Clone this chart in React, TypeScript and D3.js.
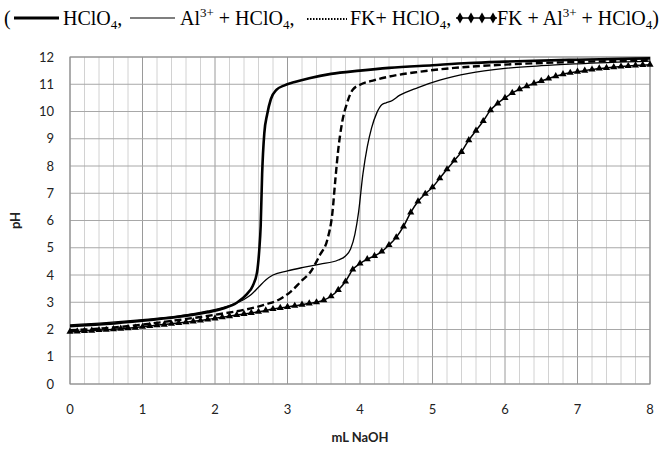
import React from "react";
import * as d3 from "d3";

const xTicks = [0, 1, 2, 3, 4, 5, 6, 7, 8];
const yTicks = [0, 1, 2, 3, 4, 5, 6, 7, 8, 9, 10, 11, 12];

// HClO4 (thick solid)
const hclo4X = [0, 0.5, 1.0, 1.5, 1.9, 2.1, 2.3, 2.44, 2.52, 2.58, 2.61, 2.63, 2.65, 2.68, 2.72, 2.77, 2.85, 2.95, 3.1, 3.3, 3.6, 4.0, 4.4, 5.0, 5.5, 6.0, 7.0, 8.0];
const hclo4Y = [2.12, 2.2, 2.32, 2.47, 2.63, 2.76, 2.98, 3.3, 3.6, 4.1, 4.9, 5.8, 7.7, 9.2, 9.9, 10.45, 10.8, 10.95, 11.08, 11.22, 11.38, 11.5, 11.6, 11.7, 11.78, 11.83, 11.9, 11.95];

// Al3+ + HClO4 (thin solid)
const alX = [0, 0.5, 1.0, 1.5, 1.9, 2.2, 2.4, 2.5, 2.6, 2.7, 2.8, 3.0, 3.2, 3.45, 3.7, 3.8, 3.87, 3.93, 3.98, 4.04, 4.1, 4.16, 4.23, 4.3, 4.36, 4.42, 4.55, 4.8, 5.1, 5.5, 6.0, 6.5, 7.0, 8.0];
const alY = [2.17, 2.25, 2.36, 2.5, 2.68, 2.88, 3.1, 3.28, 3.55, 3.82, 4.0, 4.15, 4.27, 4.4, 4.55, 4.7, 4.95, 5.5, 6.3, 7.7, 8.7, 9.4, 9.94, 10.25, 10.32, 10.37, 10.6, 10.88, 11.15, 11.4, 11.58, 11.68, 11.75, 11.85];

// FK + HClO4 (dashed)
const fkX = [0, 0.5, 1.0, 1.5, 2.0, 2.4, 2.7, 2.9, 3.05, 3.2, 3.3, 3.45, 3.55, 3.62, 3.66, 3.7, 3.75, 3.82, 3.9, 4.0, 4.2, 4.4, 4.8, 5.3, 6.0, 7.0, 8.0];
const fkY = [1.97, 2.05, 2.18, 2.35, 2.54, 2.72, 2.92, 3.12, 3.4, 3.8, 4.05, 4.75, 5.3, 6.3, 7.5, 8.6, 9.55, 10.3, 10.8, 10.98, 11.15, 11.28, 11.45, 11.6, 11.72, 11.82, 11.88];

// FK + Al3+ + HClO4 (markers)
const fkAlX = [0, 0.1, 0.2, 0.3, 0.4, 0.5, 0.6, 0.7, 0.8, 0.9, 1.0, 1.1, 1.2, 1.3, 1.4, 1.5, 1.6, 1.7, 1.8, 1.9, 2.0, 2.1, 2.2, 2.3, 2.4, 2.5, 2.6, 2.7, 2.8, 2.9, 3.0, 3.1, 3.2, 3.3, 3.4, 3.5, 3.6, 3.7, 3.8, 3.9, 4.0, 4.1, 4.2, 4.3, 4.4, 4.5, 4.6, 4.7, 4.8, 4.9, 5.0, 5.1, 5.2, 5.3, 5.4, 5.5, 5.6, 5.7, 5.8, 5.9, 6.0, 6.1, 6.2, 6.3, 6.4, 6.5, 6.6, 6.7, 6.8, 6.9, 7.0, 7.1, 7.2, 7.3, 7.4, 7.5, 7.6, 7.7, 7.8, 7.9, 8.0];
const fkAlY = [1.92, 1.93, 1.95, 1.96, 1.98, 1.99, 2.01, 2.03, 2.05, 2.07, 2.1, 2.13, 2.16, 2.18, 2.21, 2.24, 2.27, 2.3, 2.33, 2.37, 2.41, 2.45, 2.49, 2.53, 2.57, 2.61, 2.65, 2.7, 2.75, 2.79, 2.83, 2.87, 2.91, 2.96, 3.0, 3.08, 3.22, 3.45, 3.76, 4.2, 4.42, 4.58, 4.7, 4.86, 5.1, 5.38, 5.78, 6.3, 6.7, 6.98, 7.22, 7.55, 7.88, 8.2, 8.52, 8.95, 9.3, 9.65, 10.05, 10.3, 10.5, 10.68, 10.82, 10.93, 11.03, 11.12, 11.21, 11.3, 11.37, 11.42, 11.46, 11.5, 11.54, 11.58, 11.6, 11.63, 11.65, 11.67, 11.69, 11.71, 11.72];

const W = 668;
const H = 450;
const L = 70, R = 650, T = 57, B = 384;

export default function App() {
  const x = d3.scaleLinear().domain([0, 8]).range([L, R]);
  const y = d3.scaleLinear().domain([0, 12]).range([B, T]);
  const line = d3
    .line<[number, number]>()
    .x((d) => x(d[0]))
    .y((d) => y(d[1]))
    .curve(d3.curveMonotoneX);
  const zip = (a: number[], b: number[]) => a.map((v, i) => [v, b[i]] as [number, number]);

  const minor = d3.range(0, 40).map((i) => i * 0.2).filter((v) => Math.abs(v - Math.round(v)) > 1e-6);
  const axisFont = "Lato, 'Open Sans', sans-serif";
  const serif = "'Liberation Serif', 'DejaVu Serif', serif";
  const tri = d3.symbol().type(d3.symbolTriangle).size(22)() as string;
  const dia = d3.symbol().type(d3.symbolDiamond).size(34)() as string;
  const fs = 20;
  const sub = 13;

  return (
    <svg width={W} height={H} style={{ position: "absolute", left: 0, top: 0, background: "#fff" }}>
      <rect x={0} y={0} width={W} height={H} fill="#fff" />
      {/* grid */}
      {minor.map((v) => (
        <line key={"m" + v} x1={x(v)} x2={x(v)} y1={T} y2={B} stroke="#d2d2d2" strokeWidth={1} />
      ))}
      {xTicks.map((v) => (
        <line key={"vx" + v} x1={x(v)} x2={x(v)} y1={T} y2={B} stroke="#9a9a9a" strokeWidth={1} />
      ))}
      {yTicks.map((v) => (
        <line key={"hy" + v} x1={L} x2={R} y1={y(v)} y2={y(v)} stroke="#a8a8a8" strokeWidth={1} />
      ))}
      <rect x={L} y={T} width={R - L} height={B - T} fill="none" stroke="#8c8c8c" strokeWidth={1} />

      {/* series */}
      <path d={line(zip(fkAlX, fkAlY)) as string} fill="none" stroke="#000" strokeWidth={1.5} />
      {fkAlX.map((v, i) => (
        <path key={"t" + i} d={tri} transform={`translate(${x(v)},${y(fkAlY[i])})`} fill="#000" />
      ))}
      <path d={line(zip(fkX, fkY)) as string} fill="none" stroke="#000" strokeWidth={2.4} strokeDasharray="7,3.5" />
      <path d={line(zip(alX, alY)) as string} fill="none" stroke="#000" strokeWidth={1.3} />
      <path d={line(zip(hclo4X, hclo4Y)) as string} fill="none" stroke="#000" strokeWidth={2.6} />

      {/* axes labels */}
      {yTicks.map((v) => (
        <text key={"yl" + v} x={54} y={y(v)} dy="0.35em" textAnchor="end" fontFamily={axisFont} fontSize={13} fill="#222">
          {v}
        </text>
      ))}
      {xTicks.map((v) => (
        <text key={"xl" + v} x={x(v)} y={414} textAnchor="middle" fontFamily={axisFont} fontSize={13} fill="#222">
          {v}
        </text>
      ))}
      <text x={360} y={442} textAnchor="middle" fontFamily={axisFont} fontSize={13} fontWeight="bold" fill="#222">
        mL NaOH
      </text>
      <text transform={`translate(20,${(T + B) / 2}) rotate(-90)`} textAnchor="middle" fontFamily={axisFont} fontSize={13} fontWeight="bold" fill="#222">
        pH
      </text>

      {/* legend */}
      <g fontFamily={serif} fontSize={fs} fill="#000">
        <text x={4} y={25}>(</text>
        <line x1={14} x2={59} y1={18} y2={18} stroke="#000" strokeWidth={3} />
        <text x={63} y={25}>
          HClO<tspan fontSize={sub} dy={4}>4</tspan>
          <tspan dy={-4}>,</tspan>
        </text>
        <line x1={130} x2={175} y1={18} y2={18} stroke="#000" strokeWidth={1.2} />
        <text x={180} y={25}>
          Al<tspan fontSize={sub} dy={-8}>3+</tspan>
          <tspan dy={8}> + HClO</tspan>
          <tspan fontSize={sub} dy={4}>4</tspan>
          <tspan dy={-4}>,</tspan>
        </text>
        <line x1={307} x2={347} y1={19} y2={19} stroke="#000" strokeWidth={2} strokeDasharray="1.5,1.5" />
        <text x={350} y={25}>
          FK+ HClO<tspan fontSize={sub} dy={4}>4</tspan>
          <tspan dy={-4}>,</tspan>
        </text>
        <line x1={456} x2={497} y1={18} y2={18} stroke="#000" strokeWidth={1.3} />
        {[460, 471, 482, 493].map((px) => (
          <path key={"d" + px} d={dia} transform={`translate(${px},18)`} fill="#000" />
        ))}
        <text x={497} y={25}>
          FK + Al<tspan fontSize={sub} dy={-8}>3+</tspan>
          <tspan dy={8}> + HClO</tspan>
          <tspan fontSize={sub} dy={4}>4</tspan>
          <tspan dy={-4}>)</tspan>
        </text>
      </g>
    </svg>
  );
}
